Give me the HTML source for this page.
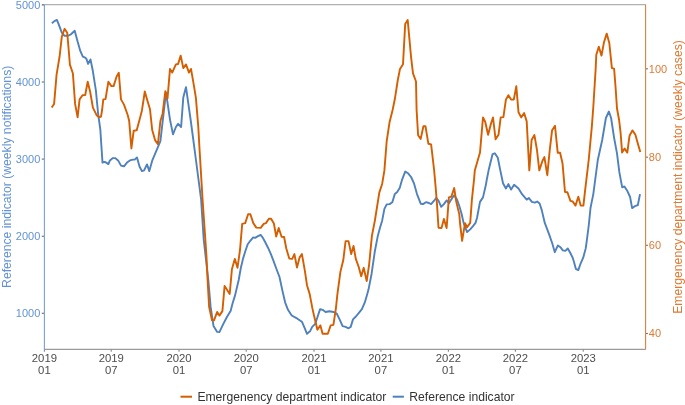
<!DOCTYPE html><html><head><meta charset="utf-8"><style>html,body{margin:0;padding:0;background:#fff;}svg{display:block;will-change:transform;}</style></head><body>
<svg width="685" height="405" viewBox="0 0 685 405" font-family="Liberation Sans, sans-serif">
<rect width="685" height="405" fill="#fff"/>
<line x1="42" y1="4.7" x2="645.6" y2="4.7" stroke="#b0b0b0" stroke-width="1.2"/>
<line x1="44" y1="349.4" x2="645.6" y2="349.4" stroke="#9a9a9a" stroke-width="1.1"/>
<line x1="41.8" y1="4.8999999999999995" x2="44" y2="4.8999999999999995" stroke="#777" stroke-width="1.2"/>
<text x="40.3" y="8.55" font-size="11" fill="#6293d2" text-anchor="end">5000</text>
<line x1="41.8" y1="82.0" x2="44" y2="82.0" stroke="#777" stroke-width="1.2"/>
<text x="40.3" y="85.65" font-size="11" fill="#6293d2" text-anchor="end">4000</text>
<line x1="41.8" y1="159.10000000000002" x2="44" y2="159.10000000000002" stroke="#777" stroke-width="1.2"/>
<text x="40.3" y="162.75" font-size="11" fill="#6293d2" text-anchor="end">3000</text>
<line x1="41.8" y1="236.3" x2="44" y2="236.3" stroke="#777" stroke-width="1.2"/>
<text x="40.3" y="239.95" font-size="11" fill="#6293d2" text-anchor="end">2000</text>
<line x1="41.8" y1="313.3" x2="44" y2="313.3" stroke="#777" stroke-width="1.2"/>
<text x="40.3" y="316.95" font-size="11" fill="#6293d2" text-anchor="end">1000</text>
<line x1="645.6" y1="68.8" x2="648" y2="68.8" stroke="#777" stroke-width="1.1"/>
<text x="648.8" y="72.75" font-size="11" fill="#de7a33">100</text>
<line x1="645.6" y1="157.2" x2="648" y2="157.2" stroke="#777" stroke-width="1.1"/>
<text x="648.8" y="161.15" font-size="11" fill="#de7a33">80</text>
<line x1="645.6" y1="245.3" x2="648" y2="245.3" stroke="#777" stroke-width="1.1"/>
<text x="648.8" y="249.25" font-size="11" fill="#de7a33">60</text>
<line x1="645.6" y1="333.5" x2="648" y2="333.5" stroke="#777" stroke-width="1.1"/>
<text x="648.8" y="337.45" font-size="11" fill="#de7a33">40</text>
<line x1="44.4" y1="349.4" x2="44.4" y2="351.8" stroke="#888" stroke-width="1.1"/>
<text x="44.4" y="362.1" font-size="11.3" fill="#4d4d4d" text-anchor="middle">2019</text>
<text x="44.4" y="373.9" font-size="11.3" fill="#4d4d4d" text-anchor="middle">01</text>
<line x1="111.2" y1="349.4" x2="111.2" y2="351.8" stroke="#888" stroke-width="1.1"/>
<text x="111.2" y="362.1" font-size="11.3" fill="#4d4d4d" text-anchor="middle">2019</text>
<text x="111.2" y="373.9" font-size="11.3" fill="#4d4d4d" text-anchor="middle">07</text>
<line x1="179.0" y1="349.4" x2="179.0" y2="351.8" stroke="#888" stroke-width="1.1"/>
<text x="179.0" y="362.1" font-size="11.3" fill="#4d4d4d" text-anchor="middle">2020</text>
<text x="179.0" y="373.9" font-size="11.3" fill="#4d4d4d" text-anchor="middle">01</text>
<line x1="246.2" y1="349.4" x2="246.2" y2="351.8" stroke="#888" stroke-width="1.1"/>
<text x="246.2" y="362.1" font-size="11.3" fill="#4d4d4d" text-anchor="middle">2020</text>
<text x="246.2" y="373.9" font-size="11.3" fill="#4d4d4d" text-anchor="middle">07</text>
<line x1="314.0" y1="349.4" x2="314.0" y2="351.8" stroke="#888" stroke-width="1.1"/>
<text x="314.0" y="362.1" font-size="11.3" fill="#4d4d4d" text-anchor="middle">2021</text>
<text x="314.0" y="373.9" font-size="11.3" fill="#4d4d4d" text-anchor="middle">01</text>
<line x1="380.9" y1="349.4" x2="380.9" y2="351.8" stroke="#888" stroke-width="1.1"/>
<text x="380.9" y="362.1" font-size="11.3" fill="#4d4d4d" text-anchor="middle">2021</text>
<text x="380.9" y="373.9" font-size="11.3" fill="#4d4d4d" text-anchor="middle">07</text>
<line x1="448.4" y1="349.4" x2="448.4" y2="351.8" stroke="#888" stroke-width="1.1"/>
<text x="448.4" y="362.1" font-size="11.3" fill="#4d4d4d" text-anchor="middle">2022</text>
<text x="448.4" y="373.9" font-size="11.3" fill="#4d4d4d" text-anchor="middle">01</text>
<line x1="515.4" y1="349.4" x2="515.4" y2="351.8" stroke="#888" stroke-width="1.1"/>
<text x="515.4" y="362.1" font-size="11.3" fill="#4d4d4d" text-anchor="middle">2022</text>
<text x="515.4" y="373.9" font-size="11.3" fill="#4d4d4d" text-anchor="middle">07</text>
<line x1="583.2" y1="349.4" x2="583.2" y2="351.8" stroke="#888" stroke-width="1.1"/>
<text x="583.2" y="362.1" font-size="11.3" fill="#4d4d4d" text-anchor="middle">2023</text>
<text x="583.2" y="373.9" font-size="11.3" fill="#4d4d4d" text-anchor="middle">01</text>
<line x1="44.4" y1="4.6" x2="44.4" y2="349.4" stroke="#7aa0d8" stroke-width="1.1"/>
<line x1="645.6" y1="4.6" x2="645.6" y2="349.4" stroke="#dc7f3c" stroke-width="1.1"/>
<polyline fill="none" stroke="#4f81bd" stroke-width="1.9" stroke-linejoin="round" points="51.9,23.3 54.4,21.1 56.9,19.9 58.9,24.8 61.8,32.7 64.3,35.7 68.2,35.7 70.7,34.5 74.7,30.7 77.6,41.6 80.3,50.9 82.8,56.6 85.2,57.6 86.5,59 88.1,63.9 90.5,59.4 92.9,71.3 95.9,90.6 98.1,113.5 100.3,129.3 102.5,162.6 104.7,161.9 106.2,162.6 108.4,164.1 109.9,160.4 112.9,158.1 115.1,158.1 118.1,160.4 121,165.6 124,166.3 127,162.6 129.9,160.4 132.9,159.6 134.7,159.6 137,157.4 139.6,166.7 141.9,171.1 144.1,170.4 147,164.4 149.3,171.1 152.2,160.7 155.9,151.9 160.4,141.1 166,92.5 170,119.6 173,134.4 175.9,127 178.1,123.8 181.1,127 183.3,97.4 186,87.1 188.5,104.8 190.6,119.5 192.8,136 195.3,155 198.1,176.5 201.1,199.3 203.7,239.4 208.3,280 210.6,306.7 213.5,325.9 217.2,331.9 219.4,332.1 223.1,324.4 226.9,317 230.6,311.1 232.6,303.3 235,295.6 238.7,280 240.8,268 242.8,259.6 245.3,251.2 247.7,244.3 250.7,240.3 253.2,237.4 255.1,237.9 257.6,236.4 260.6,234.9 262.6,237.4 265,241.8 268,247.7 270.9,254.2 273.4,260.6 275.9,267.5 279.5,277 282.3,290.1 285.1,302.3 288,309.8 291.7,315.5 297.4,318.7 301.9,321.7 304.8,328.3 307,333.8 310,331.3 312.2,326.9 315.2,323.9 317.4,317.2 320.1,309.1 322.6,309.8 325.6,312 329.3,311.3 333.7,312 336.7,313.5 339.6,319.4 342.6,326.1 345.6,326.9 348.5,328.3 350.7,326.9 353,319.4 355.9,316.5 358.9,312.8 361.9,309.1 364.8,302.4 367,295 368.5,289.6 371.6,273.7 374.8,251.5 377.8,235.9 380,227.8 382.2,220.4 384.4,208.9 386.7,204.4 389.6,204.1 392.3,202.2 394.8,194.1 397,192.3 399.7,188.1 402.2,179.3 405.2,171.6 408.1,173.3 411.1,177 414.1,183.7 417,194.1 420.7,203.7 423,204.1 425.9,202.2 428.9,203 431.1,204.1 434.1,200.7 436.3,197.8 438.5,200.7 441.2,206.8 443.7,204.4 446.7,200.4 448.9,203.3 451.9,198.5 454.1,195.2 457,199.6 459.3,206 461.5,213.5 463.6,222.9 467.1,232.1 470.2,229.4 472.8,226.4 475.5,222.9 477,218 480,201.9 483,197.4 485.9,184.8 486.7,180 488.9,168.9 492.6,154.1 494.8,153.3 497.8,157.8 500,168.9 503,183.3 505.9,188.5 508.4,184.1 511.1,189.6 514.1,184.8 518.5,188.5 522.2,194.4 526.7,199.6 528.9,198.1 531.9,201.9 534.8,202.6 537.2,201.5 539.6,203.5 541.7,209.9 544.7,222.7 549.3,234.9 552.3,243.5 554.8,252.2 557.9,245.4 560.4,247.2 562.8,250.3 565.3,250.9 567.8,248.5 570.2,252.8 572.7,257.7 574,262 575.8,268.8 578.3,270.1 580.7,263.3 583.2,257.7 585.7,248.5 586.9,239.8 588.8,225 590.5,208 593.3,194.1 597.8,160 602.2,140 605.9,118 608.9,111.5 611.1,118 614.1,137.8 617,153.3 619.3,171.9 622.2,187.4 624.4,186.4 627.4,191.1 630.1,197 632.1,208.1 634.8,206.2 637.8,205.2 640,194.1"/>
<polyline fill="none" stroke="#d55e00" stroke-width="1.9" stroke-linejoin="round" points="51.7,107.6 54.1,103.9 56.6,74.3 59.6,56.5 61.8,36.7 64.6,28.8 67.2,32.7 68.7,50 69.9,64.6 72.9,73.5 75.1,103.9 77.6,117.4 79.6,99.4 82.5,95.3 85.2,95 87.7,81.7 90.2,92 92.9,107.6 96.6,115.2 98.8,117.1 101,116.7 102.1,110 103.3,99.4 105.5,99.1 108.4,81.7 111.4,86.1 113.6,86.1 116.6,76.5 118.8,72.8 121,99.4 124,104.6 127.7,115 129.2,121.1 131.4,148.5 133.7,130.7 136.7,130.3 139.6,119.6 141.9,110.7 144.8,91.5 147.5,101.1 150,109.3 152.2,130 155.2,140.4 157.9,144.1 160.4,121.1 162.6,113.7 165.3,91.3 167.5,98.5 170,68.9 172.2,72.6 175.9,64.4 178.1,64 180.7,55.6 183.3,68.1 186,64.4 189,72.6 191,68.9 193.7,84.4 195.9,97.8 198.3,127 199.7,152 202.6,200 206.4,255 207.6,280 209.1,306.7 212,320.3 214,320.3 217.2,311.9 219.4,315.6 222.4,311.1 224.6,285.9 229.7,294 231.9,269.3 234.8,258.9 237.5,267.8 240,250 242.2,223.9 245.2,223.1 248.1,214.3 250.4,214.3 253.3,223.1 256.3,227.6 260.7,227.9 263.7,223.9 265.9,223.1 268.9,218.7 271.1,218.7 273.9,223.5 276.2,236.6 278.7,228 281.6,236.7 284.1,237 286.3,248.5 289.3,258.6 292.2,258.9 294.4,254.1 297,267.5 299.6,257.4 301.9,254.1 304.8,270.4 307,285.2 309.7,294.1 312.2,307.4 313.7,314.3 317.4,329.8 320.4,325.4 322.6,333.8 327.8,333.8 330.7,325.4 333.4,324.9 335.9,308.3 337.4,294.1 340.4,271.9 343.3,260 345.6,241.1 348.5,241.1 351.2,254.1 353.5,246 355.8,258.9 358.8,267.3 361.2,276.2 363.7,267.8 366.7,281.1 369.1,264.8 371.9,235.9 374.8,221 379.3,192.6 382.2,183.7 384.4,170.4 386.7,141.1 389.6,121.9 392.6,110 394.8,99.3 397.8,80 400,68.9 403,64.3 405.2,24.1 407.7,20.1 411.1,57.4 413,73.3 416,81.5 416.6,110 418.1,135.2 420.7,138.9 423.4,126.3 425.5,126.3 428.4,143.8 431.1,144.4 434.1,170 435.6,186.7 437,204.4 438.5,227.8 441.5,228.1 443.9,218.9 446.6,228.1 448.9,197.4 451.3,196.7 454.2,188.1 456.3,201.9 459.3,214.4 460.1,223.8 462.1,240.8 465,223.3 467.1,227.3 470.2,222.9 471.9,199.6 474.1,178.9 474.8,170.4 480,152.6 481.5,134.8 483,117.5 485.2,121.8 488.1,134.8 491.1,123.2 493,117.5 495.6,139.3 498.5,134.8 500.7,117.4 503.4,117.1 505.9,99.6 508.4,95.2 511.1,99.6 513.8,99.6 516.3,86.3 518.5,112.2 521.2,117.4 524.1,113 526.7,121.4 529.3,170.4 531.6,139.9 534.4,135.1 536.9,149.5 539.3,170.4 542.5,160.7 544.4,157.1 547.3,175.2 549.7,150.3 552.1,130.2 555,125.9 557.7,152.7 560.1,152.7 562.5,163.2 565,192 567.4,192.2 570.4,200.9 572.7,201.5 575.5,205.6 578.3,196.7 580.7,205.6 583.4,205.6 585.2,189.6 588.7,160 591.9,125.9 593.3,107 595.6,70 596.3,54.8 598.8,46.7 601.5,55.6 604,42.2 606.7,33.6 609.3,43 611.9,68.1 614.1,68.6 615.6,87.8 617,108.5 619.1,120 620.6,132.8 622.1,152.6 624.6,148.6 627.3,152.6 629.5,135.8 632.4,130.4 635.4,134.8 637.9,143.7 640.3,152.1"/>
<text transform="translate(10.9,176.8) rotate(-90)" font-size="12.2" fill="#6293d2" text-anchor="middle">Reference indicator (weekly notifications)</text>
<text transform="translate(681.6,177) rotate(-90)" font-size="12.2" fill="#de7a33" text-anchor="middle">Emergenency department indicator (weekly cases)</text>
<line x1="180.5" y1="396.7" x2="192" y2="396.7" stroke="#d55e00" stroke-width="2"/>
<text x="197.4" y="401" font-size="12.15" fill="#333">Emergenency department indicator</text>
<line x1="392.7" y1="396.7" x2="403.9" y2="396.7" stroke="#4f81bd" stroke-width="2"/>
<text x="409.3" y="401" font-size="12.15" fill="#333">Reference indicator</text>
</svg></body></html>
